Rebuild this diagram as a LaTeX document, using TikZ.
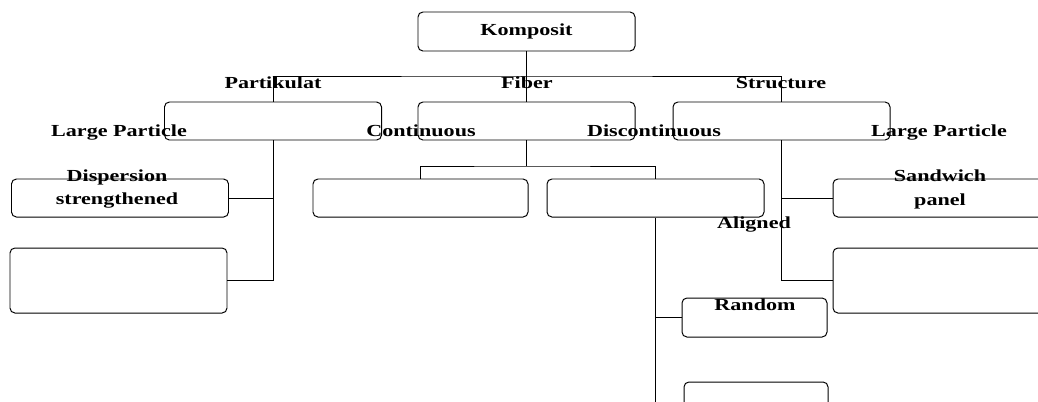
\documentclass[tikz,border=0pt]{standalone}
\usepackage{fontspec}
\setmainfont{Liberation Serif}[FakeStretch=1.31]
\begin{document}
\begin{tikzpicture}[x=0.25mm,y=-0.25mm,line width=0.7pt,
		box/.style={draw,rounded corners=3.5pt,inner sep=0pt,minimum width=54.25mm,minimum height=9.5mm},
		bold/.style={font=\fontsize{12}{17}\selectfont\bfseries},
		lbl/.style={bold,inner sep=0pt,anchor=base}]

		\clip (0,0) rectangle (1038,401);

		% boxes
		\node[box,bold,minimum height=9.75mm] (komp) at (526.5,31.5) {Komposit};

		\node[box] (part) at (273,121) {};
		\node[box] (fib) at (526.5,121) {};
		\node[box] (struc) at (781.5,121) {};

		\node[box] (disp) at (120,198) {};
		\node[box,minimum height=16.25mm] (pbig) at (118.5,280.5) {};

		\node[box,minimum width=53.75mm] (cont) at (420.5,198) {};
		\node[box] (disc) at (655.5,198) {};
		\node[box,minimum width=36.25mm,minimum height=9.75mm] (rand) at (754.5,317.5) {};
		\node[box,minimum width=36mm,minimum height=11mm] (rbox) at (756,404) {};

		\node[box] (sand) at (941.5,198) {};
		\node[box,minimum height=16.25mm] (sbig) at (941.5,280.5) {};

		% lines
		\coordinate (bus) at (526.5,76);
		\draw (komp) -- (fib);
		\draw (part.north) |- (bus) -| (struc.north);

		\coordinate (fbus) at (526.5,166);
		\draw (fib) -- (fbus);
		\draw (cont.north) |- (fbus) -| (disc.north);

		\draw (part.south) |- (pbig.east);
		\draw (disp.east) -- (disp.east -| part.south);

		\draw (struc.south) |- (sbig.west);
		\draw (sand.west) -- (sand.west -| struc.south);

		\draw (disc.south) |- (rbox.west);
		\draw (rand.west) -- (rand.west -| disc.south);

		% labels
		\node[lbl] (lpart) at (273,88) {Partikulat};
		\node[lbl] (lfib) at (527,88) {Fiber};
		\node[lbl] (lstruc) at (781,88) {Structure};
		\node[lbl] (llarge) at (119,136) {Large Particle};
		\node[lbl] (lcont) at (421,136) {Continuous};
		\node[lbl] (ldisc) at (654,136) {Discontinuous};
		\node[lbl] (llarge2) at (939,136) {Large Particle};
		\node[lbl,align=center,anchor=center] (ldisp) at (117,189) {Dispersion\\strengthened};
		\node[lbl,align=center,anchor=center] (lsand) at (940,189) {Sandwich\\panel};
		\node[lbl] (lalig) at (754,228) {Aligned};
		\node[lbl] (lrand) at (755,310) {Random};
	\end{tikzpicture}
\end{document}
